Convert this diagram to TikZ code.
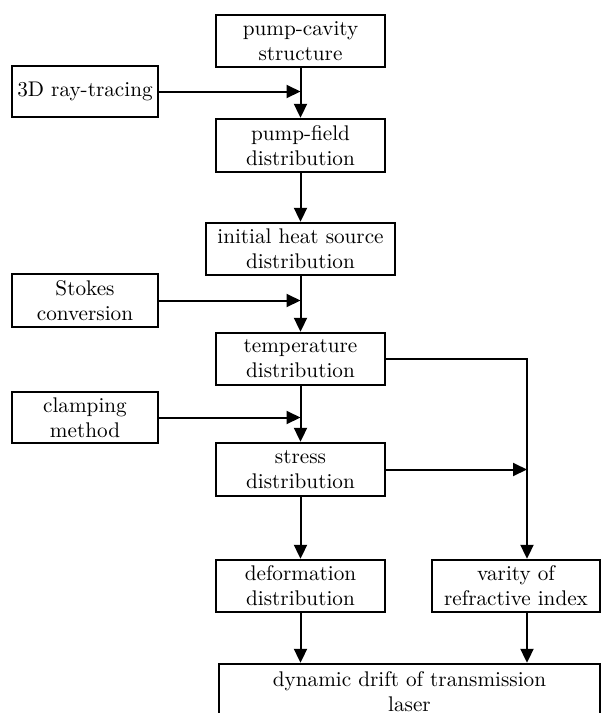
\documentclass[tikz,border=0pt]{standalone}
\usetikzlibrary{arrows.meta,calc}
\begin{document}
\begin{tikzpicture}[x=0.5pt,y=-0.5pt,
 box/.style={draw,line width=1.2pt,rectangle,inner sep=0pt,align=center,font=\fontsize{10.6}{12.5}\selectfont},
 arr/.style={line width=1pt,-{Triangle[length=7pt,width=6.5pt]}}]
\useasboundingbox (0,0) rectangle (601,713);
\clip (0,0) rectangle (601,713);
\node[box,minimum width=84.5pt,minimum height=26pt] (cav) at (300.5,41) {pump-cavity\\structure};
\node[box,minimum width=73pt,minimum height=25.5pt] (ray) at (85,91.5) {3D ray-tracing};
\node[box,minimum width=84.5pt,minimum height=26.5pt] (field) at (300.5,145.5) {pump-field\\distribution};
\node[box,minimum width=94.5pt,minimum height=26pt] (heat) at (300.5,249) {initial heat source\\distribution};
\node[box,minimum width=73pt,minimum height=26.5pt] (stokes) at (85,300.5) {Stokes\\conversion};
\node[box,minimum width=84.5pt,minimum height=26pt] (temp) at (300.5,359) {temperature\\distribution};
\node[box,minimum width=73pt,minimum height=25.5pt] (clamp) at (85,417.5) {clamping\\method};
\node[box,minimum width=84.5pt,minimum height=26.5pt] (stress) at (300.5,469.5) {stress\\distribution};
\node[box,minimum width=84.5pt,minimum height=26pt] (deform) at (300.5,586) {deformation\\distribution};
\node[box,minimum width=84pt,minimum height=26pt] (vary) at (516,586) {varity of\\refractive index};
\node[box,minimum width=190.5pt,minimum height=28pt] (bot) at (409.5,692) {dynamic drift of transmission\\laser};
\coordinate (rx) at (527,0);
\draw[arr] (cav) -- (field);
\draw[arr] (ray.east) -- (ray.east -| cav.south);
\draw[arr] (field) -- (heat);
\draw[arr] (heat) -- (temp);
\draw[arr] (stokes.east) -- (stokes.east -| heat.south);
\draw[arr] (temp) -- (stress);
\draw[arr] (clamp.east) -- (clamp.east -| temp.south);
\draw[arr] (stress) -- (deform);
\draw[arr] (temp.east) -| (vary.north -| rx);
\draw[arr] (stress.east) -- (stress.east -| rx);
\draw[arr] (deform) -- (deform.south |- bot.north);
\draw[arr] (vary.south -| rx) -- (bot.north -| rx);
\end{tikzpicture}
\end{document}
